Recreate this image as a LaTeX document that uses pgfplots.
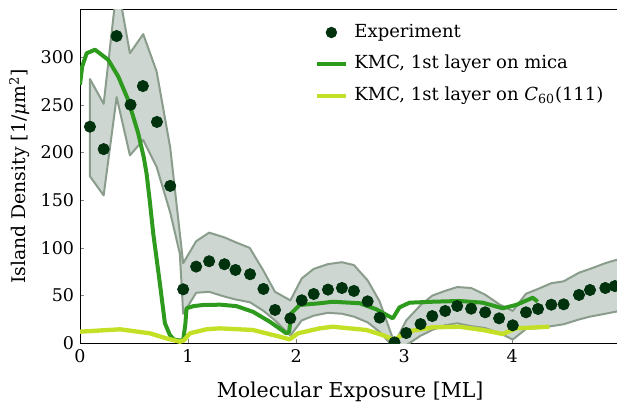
\documentclass[border=0pt]{standalone}
\usepackage{fontspec}
\setmainfont{DejaVu Serif}
\usepackage{pgfplots}
\pgfplotsset{compat=1.18}

\definecolor{expcol}{RGB}{0,50,14}
\definecolor{micacol}{RGB}{46,155,30}
\definecolor{c60col}{RGB}{196,224,38}
\definecolor{bandfill}{RGB}{205,214,208}
\definecolor{bandedge}{RGB}{138,156,139}

\newcommand{\fs}{\fontsize{10.5}{12}\selectfont}

\begin{document}
\begin{tikzpicture}
\begin{axis}[
    scale only axis,
    width=324.15pt, height=200.4pt,
    xmin=0, xmax=5,
    ymin=0, ymax=350,
    xtick={0,1,2,3,4},
    ytick={0,50,100,150,200,250,300},
    tick pos=left,
    tick align=inside,
    major tick length=2.5pt,
    axis line style={line width=0.6pt},
    /pgf/number format/assume math mode=true,
    tick label style={font=\fs},
    xlabel={Molecular Exposure [ML]},
    ylabel={Island Density [1/{\itshape μ}m\textsuperscript{2}]},
    xlabel style={font=\fontsize{12.3}{14}\selectfont,
        at={(axis description cs:0.5,0)}, anchor=base, yshift=-32.2pt},
    ylabel style={font=\fontsize{11.3}{13}\selectfont,
        at={(axis description cs:-0.1009,0.5)}, anchor=base},
    clip marker paths=true,
    legend cell align=left,
    legend style={draw=none, fill=none, font=\fontsize{10.8}{12.5}\selectfont,
        at={(0.4344,0.966)}, anchor=north west, inner sep=0pt,
        row sep=5.3pt, column sep=2pt,
        nodes={text height=7.6pt, text depth=2.2pt, inner sep=2pt}},
]
\addlegendimage{only marks, mark=*, mark size=3.2pt, color=expcol}
\addlegendentry{Experiment}
\addlegendimage{line width=2.4pt, color=micacol}
\addlegendentry{KMC, 1st layer on mica}
\addlegendimage{line width=2.6pt, color=c60col}
\addlegendentry{KMC, 1st layer on {\itshape C}\textsubscript{60}(111)}

% experimental spread (upper edge, then lower edge backwards)
\addplot[fill=bandfill, draw=bandedge, line width=1.2pt, line join=round, forget plot]
coordinates {
(0.092,277)(0.219,251)(0.345,378)(0.462,304)(0.585,324)(0.709,285)
(0.835,205)(0.955,84)(1.075,107)(1.195,116)(1.337,111)(1.439,106)
(1.571,100)(1.698,76)(1.805,54)(1.947,45)(2.052,68)(2.163,78)
(2.295,83)(2.424,85)(2.535,82)(2.662,66)(2.773,44)(2.911,0)
(3.019,24)(3.152,40)(3.26,50)(3.38,55)(3.491,59)(3.62,58)
(3.75,51)(3.879,41)(4.005,34)(4.128,52)(4.239,57)(4.362,63)
(4.476,65)(4.618,74)(4.72,78)(4.862,84)(4.95,87)(5.05,89)
(5.05,35)(4.95,33)(4.862,31)(4.72,28)(4.618,25)(4.476,20)
(4.362,18)(4.239,16)(4.128,15)(4.005,4)(3.879,11)(3.75,16)
(3.62,18)(3.491,21)(3.38,19)(3.26,14)(3.152,8)(3.019,-2)
(2.911,-5)(2.773,12)(2.662,22)(2.535,28)(2.424,31)(2.295,32)
(2.163,29)(2.052,24)(1.947,8)(1.805,24)(1.698,34)(1.574,43)
(1.439,46)(1.337,49)(1.195,54)(1.075,53)(0.955,31)(0.924,94)
(0.835,137)(0.709,185)(0.585,213)(0.462,197)(0.339,258)(0.219,155)
(0.092,175)
} --cycle;

% KMC on mica
\addplot[micacol, line width=2.4pt, line join=round, forget plot]
coordinates {
(0,271)(0.02,290)(0.062,304)(0.139,307.7)(0.262,297)(0.354,279.6)
(0.446,255)(0.539,220)(0.59,195)(0.616,178)(0.645,150)(0.678,115)(0.739,63)
(0.786,21)(0.832,8.7)(0.87,4)(0.924,3)(0.955,3.5)(0.975,20)
(0.986,36.7)(1.05,39)(1.14,40.2)(1.3,40.5)(1.448,39)(1.602,33)
(1.756,22.7)(1.91,10.5)(1.935,12)(1.956,31.5)(2.033,40.2)(2.218,42)
(2.34,43.6)(2.588,42)(2.742,35.7)(2.865,28)(2.895,26.2)(2.957,37.7)
(3.05,42.6)(3.265,43.6)(3.512,44.4)(3.727,42.6)(3.912,36.7)(4.036,40.2)
(4.19,47.8)(4.236,43.6)
};

% KMC on C60(111)
\addplot[c60col, line width=2.6pt, line join=round, forget plot]
coordinates {
(0,12.2)(0.37,14.7)(0.647,10.5)(0.8,5.2)(0.924,1.7)(0.96,3)
(1.017,10.5)(1.17,14.7)(1.294,15.7)(1.6,14)(1.848,7)(1.94,4.2)
(2.018,10.5)(2.218,15.7)(2.34,17.4)(2.65,14)(2.8,8.7)(2.91,3.5)
(3.02,12.2)(3.265,16.8)(3.51,17.4)(3.727,14)(3.912,9.8)(4.036,15.7)
(4.344,17.4)
};

% experiment
\addplot[only marks, mark=*, mark size=3.4pt, color=expcol, forget plot]
coordinates {
(0.092,227)(0.219,203.5)(0.339,322)(0.468,250)(0.582,269.6)(0.712,232)
(0.835,165)(0.955,56.6)(1.075,80.4)(1.195,86)(1.337,82.9)(1.439,76.9)
(1.574,72.4)(1.698,57)(1.805,35)(1.947,26.2)(2.052,45.1)(2.163,51.7)
(2.295,56.3)(2.424,58)(2.535,54.9)(2.662,44)(2.773,26.9)(2.911,1)
(3.019,10.8)(3.152,20.2)(3.26,28.6)(3.38,33.9)(3.491,39.1)(3.62,36.3)
(3.75,32.5)(3.879,26.2)(4.005,18.9)(4.128,32.5)(4.239,36)(4.362,40.5)
(4.476,40.9)(4.618,50.7)(4.72,55.9)(4.862,58)(4.95,60)
};

\coordinate (bl) at (axis cs:0,0);
\coordinate (tr) at (axis cs:4.97,350);
\end{axis}
\pgfresetboundingbox
\path[use as bounding box] ([xshift=-48pt,yshift=-34.6pt]bl) rectangle ([yshift=5.6pt]tr);
\end{tikzpicture}
\end{document}
